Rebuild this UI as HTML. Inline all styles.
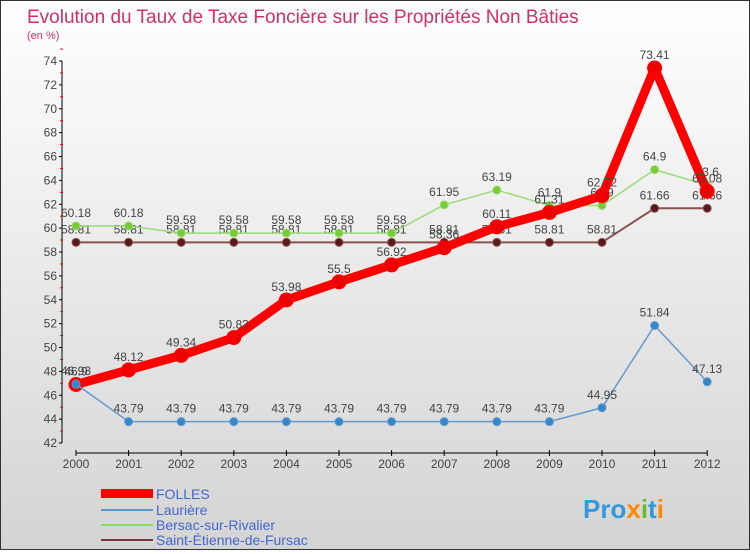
<!DOCTYPE html>
<html><head><meta charset="utf-8">
<style>
body{margin:0;width:750px;height:550px;overflow:hidden;font-family:"Liberation Sans",sans-serif}
#wrap{position:relative;width:748px;height:548px;border:1px solid #333;background:linear-gradient(#ffffff,#d4d4d4)}
</style></head><body>
<div id="wrap">
<svg id="chart" width="748" height="548" xmlns="http://www.w3.org/2000/svg">
<text x="26" y="22" font-size="19" fill="#d0306a">Evolution du Taux de Taxe Foncière sur les Propriétés Non Bâties</text>
<text x="26" y="38" font-size="11" fill="#d0306a">(en %)</text>
<g id="axes"></g>
<g id="series"></g>
<g>
<rect x="100" y="488" width="52" height="9" fill="#ff0000"/>
<text x="155" y="498" font-size="14" fill="#4466cc">FOLLES</text>
<line x1="100" y1="509" x2="152" y2="509" stroke="#5599cc" stroke-width="2"/>
<text x="155" y="514" font-size="14" fill="#4466cc">Laurière</text>
<line x1="100" y1="524" x2="152" y2="524" stroke="#88dd66" stroke-width="2"/>
<text x="155" y="529" font-size="14" fill="#4466cc">Bersac-sur-Rivalier</text>
<line x1="100" y1="539" x2="152" y2="539" stroke="#7a3a3a" stroke-width="2"/>
<text x="155" y="544" font-size="14" fill="#4466cc">Saint-Étienne-de-Fursac</text>
</g>
<text x="582" y="517" font-size="26" font-weight="bold" fill="#3399dd">Pro<tspan fill="#ff8800">x</tspan><tspan fill="#66bb33">i</tspan><tspan fill="#3399dd">t</tspan><tspan fill="#ff8800">i</tspan></text>
</svg></div>
<script>
const years=[2000,2001,2002,2003,2004,2005,2006,2007,2008,2009,2010,2011,2012];
const yTicks=[42,44,46,48,50,52,54,56,58,60,62,64,66,68,70,72,74];
const folles=[46.9,48.12,49.34,50.83,53.98,55.5,56.92,58.36,60.11,61.31,62.72,73.41,63.08];
const lauriere=[46.93,43.79,43.79,43.79,43.79,43.79,43.79,43.79,43.79,43.79,44.95,51.84,47.13];
const bersac=[60.18,60.18,59.58,59.58,59.58,59.58,59.58,61.95,63.19,61.9,61.9,64.9,63.6];
const stEtienne=[58.81,58.81,58.81,58.81,58.81,58.81,58.81,58.81,58.81,58.81,58.81,61.66,61.66];
const NS="http://www.w3.org/2000/svg";
const X=i=>75+i*52.6;
const Y=v=>442-(v-42)*(382/32);
function mk(tag,attrs,parent,txt){const e=document.createElementNS(NS,tag);for(const k in attrs)e.setAttribute(k,attrs[k]);if(txt!==undefined)e.textContent=txt;parent.appendChild(e);return e;}
const ax=document.getElementById('axes');
let l=mk('line',{x1:61,y1:Y(74),x2:61,y2:Y(42),stroke:'#000'},ax);


yTicks.forEach(t=>{
 mk('line',{x1:58,x2:61,y1:Y(t),y2:Y(t),stroke:'#000'},ax);
 mk('line',{x1:59,x2:62,y1:Y(t+1),y2:Y(t+1),stroke:'#f00'},ax);
 const tx=mk('text',{x:56,y:Y(t)+4,'font-size':12,fill:'#444','text-anchor':'end'},ax,t);
 
 
});
l=mk('line',{x1:X(0),y1:452,x2:X(12),y2:452,stroke:'#000'},ax);


years.forEach((yr,i)=>{
 mk('line',{x1:X(i),x2:X(i),y1:449,y2:455,stroke:'#000'},ax);
 const tx=mk('text',{x:X(i),y:467,'font-size':12,fill:'#444','text-anchor':'middle'},ax,yr);
 
 
});
const sg=document.getElementById('series');
function draw(vals,color,w,r,name,dotFill){
 const g=mk('g',{},sg);
 
 
 mk('polyline',{points:vals.map((v,i)=>X(i)+','+Y(v)).join(' '),fill:'none',stroke:color,'stroke-width':w,'stroke-linejoin':'round'},g);
 vals.forEach((v,i)=>{
  const c=mk('circle',{cx:X(i),cy:Y(v),r:r,fill:dotFill,stroke:color,'stroke-width':1},g);
  
  
  const t=mk('text',{x:X(i),y:Y(v)-9,'font-size':12,fill:'#444','text-anchor':'middle'},g,String(v));
  
  
 });
}
draw(stEtienne,'#8a5050',2,4,'saint-etienne','#5a1a1a');
draw(bersac,'#99dd77',1.5,4,'bersac','#77cc33');
draw(folles,'#ff0000',9,7,'folles','#ee0000');
draw(lauriere,'#6699cc',1.5,4,'lauriere','#3388cc');
</script>
</body></html>
